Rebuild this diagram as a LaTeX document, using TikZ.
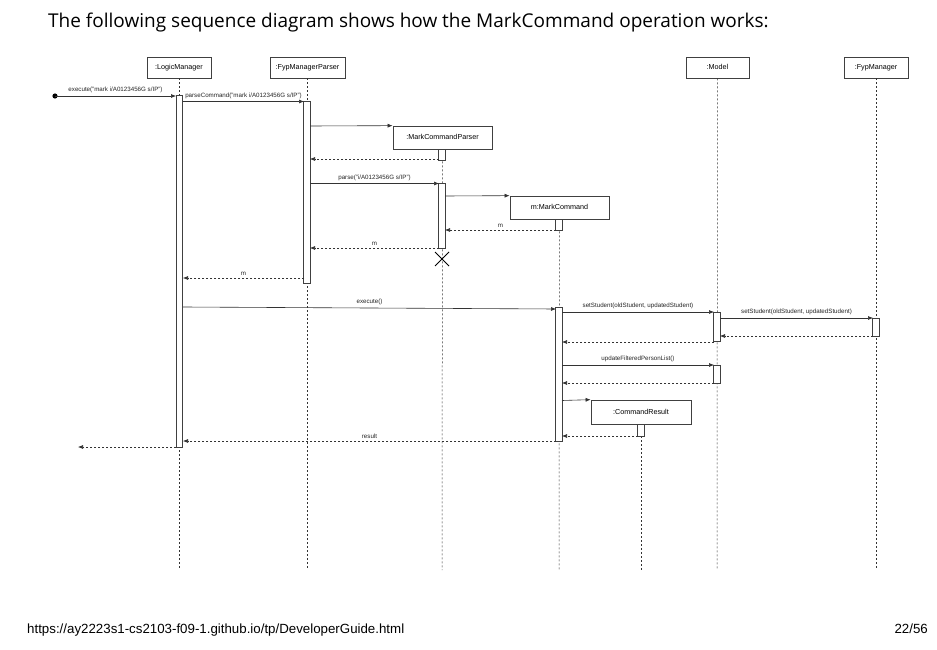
\documentclass[tikz,border=0pt]{standalone}
\usepackage{fontspec}
\setmainfont{Liberation Sans}
\newfontfamily\titlefont{Open Sans}
\usetikzlibrary{arrows.meta,calc}
\begin{document}
\begin{tikzpicture}[x=1pt,y=-1pt,
  obj/.style={draw=black!75, line width=0.7pt, fill=white, minimum height=21pt, inner sep=0pt, text height=5.5pt, text depth=1.5pt, font=\fontsize{7.2}{8}\selectfont},
  life/.style={draw=black!80, line width=0.5pt, dash pattern=on 2pt off 2pt},
  act/.style={draw=black!75, fill=white, line width=0.6pt, minimum width=6.5pt, inner sep=0pt},
  msg/.style={draw=black!80, line width=0.6pt, -{Latex[length=5pt,width=4pt]}},
  ret/.style={msg, dash pattern=on 2.5pt off 1.5pt},
  lbl/.style={font=\fontsize{6.2}{7}\selectfont, inner sep=0.5pt, anchor=south, text=black!85}
]
\useasboundingbox[fill=white] (0,0) rectangle (937,650);

% title and footer
\node[anchor=base west, inner sep=0pt, font=\titlefont\fontsize{19}{22}\selectfont] (title) at (48,28) {The following sequence diagram shows how the MarkCommand operation works:};
\node[anchor=base west, inner sep=0pt, font=\fontsize{13.3}{15}\selectfont] (url) at (27,633) {https://ay2223s1-cs2103-f09-1.github.io/tp/DeveloperGuide.html};
\node[anchor=base east, inner sep=0pt, font=\fontsize{13.3}{15}\selectfont] (page) at (928,633) {22/56};

% lifeline ends
\coordinate (lmE) at (179,570);
\coordinate (fpE) at (307.5,570);
\coordinate (mcpE) at (442,570);
\coordinate (mcE) at (559,570);
\coordinate (moE) at (717,570);
\coordinate (fmE) at (876,570);
\coordinate (crE) at (641,570);

% objects
\node[obj, minimum width=64pt] (lm) at (179,67.5) {:LogicManager};
\node[obj, minimum width=75pt] (fp) at (307.5,67.5) {:FypManagerParser};
\node[obj, minimum width=63pt] (mo) at (717.5,67.5) {:Model};
\node[obj, minimum width=64pt] (fm) at (876,67.5) {:FypManager};

\draw[life] (lm.south) -- (lmE);
\draw[life] (fp.south) -- (fpE);
\draw[life] (mo.south) -- (moE);
\draw[life] (fm.south) -- (fmE);

\node[obj, minimum width=99pt, minimum height=23pt] (mcp) at (442.5,137.5) {:MarkCommandParser};
\node[obj, minimum width=99pt, minimum height=23pt] (mc) at (559.5,207.5) {m:MarkCommand};
\node[obj, minimum width=100pt, minimum height=24pt] (cr) at (641,412) {:CommandResult};

\draw[life] (mcp.south) -- (mcpE);
\draw[life] (mc.south) -- (mcE);
\draw[life] (cr.south) -- (crE);

% activation bars
\node[act, minimum height=352pt] (lmA) at (179.5,271) {};
\node[act, minimum height=182pt] (fpA) at (307,192) {};
\node[act, minimum height=11pt] (mcpA1) at (442,154.5) {};
\node[act, minimum height=65pt] (mcpA2) at (442,215.5) {};
\node[act, minimum height=11pt] (mcA1) at (559,224.5) {};
\node[act, minimum height=134pt] (mcA2) at (559,374) {};
\node[act, minimum height=29pt] (moA1) at (717,326.5) {};
\node[act, minimum height=18pt] (moA2) at (717,374) {};
\node[act, minimum height=18pt] (fmA) at (876,327) {};
\node[act, minimum height=12pt] (crA) at (641,430) {};

% message end points
\coordinate (s0) at (55,96);
\coordinate (e0) at (176,96);
\coordinate (s1) at (183,101.5);
\coordinate (e1) at (304,101.5);
\coordinate (s2) at (310,126);
\coordinate (s3) at (439,159);
\coordinate (e3) at (310,159);
\coordinate (s4) at (310,183.5);
\coordinate (e4) at (439,183.5);
\coordinate (s5) at (445,196);
\coordinate (s6) at (556,230);
\coordinate (e6) at (445,230);
\coordinate (s7) at (439,248);
\coordinate (e7) at (310,248);
\coordinate (s8) at (304,278);
\coordinate (e8) at (183,278);
\coordinate (s9) at (183,307);
\coordinate (e9) at (556,309);
\coordinate (s10) at (562,312);
\coordinate (e10) at (714,312);
\coordinate (s11) at (720,318);
\coordinate (e11) at (873,318);
\coordinate (s12) at (873,336);
\coordinate (e12) at (720,336);
\coordinate (s13) at (714,342);
\coordinate (e13) at (562,342);
\coordinate (s14) at (562,365);
\coordinate (e14) at (714,365);
\coordinate (s15) at (714,383);
\coordinate (e15) at (562,383);
\coordinate (s16) at (562,400.5);
\coordinate (s17) at (638,436);
\coordinate (e17) at (562,436);
\coordinate (s18) at (556,441);
\coordinate (e18) at (183,441);
\coordinate (s19) at (176,447);
\coordinate (e19) at (78,447);

% messages
\fill[black] (s0) circle (2.6pt);
\draw[msg] (s0) -- node[lbl, yshift=2pt] {execute("mark i/A0123456G s/IP")} (e0);
\draw[msg] (s1) -- node[lbl, yshift=2pt] {parseCommand("mark i/A0123456G s/IP")} (e1);
\draw[msg] (s2) -- (mcp.north west);
\draw[ret] (s3) -- (e3);
\draw[msg] (s4) -- node[lbl, yshift=2pt] {parse("i/A0123456G s/IP")} (e4);
\draw[msg] (s5) -- (mc.north west);
\draw[ret] (s6) -- node[lbl, yshift=2pt] {m} (e6);
\draw[ret] (s7) -- node[lbl, yshift=2pt] {m} (e7);
\draw[ret] (s8) -- node[lbl, yshift=2pt] {m} (e8);
\draw[msg] (s9) -- node[lbl, yshift=2pt] {execute()} (e9);
\draw[msg] (s10) -- node[lbl, yshift=2pt] {setStudent(oldStudent, updatedStudent)} (e10);
\draw[msg] (s11) -- node[lbl, yshift=2pt] {setStudent(oldStudent, updatedStudent)} (e11);
\draw[ret] (s12) -- (e12);
\draw[ret] (s13) -- (e13);
\draw[msg] (s14) -- node[lbl, yshift=2pt] {updateFilteredPersonList()} (e14);
\draw[ret] (s15) -- (e15);
\draw[msg] (s16) -- (cr.north west);
\draw[ret] (s17) -- (e17);
\draw[ret] (s18) -- node[lbl, yshift=2pt] {result} (e18);
\draw[ret] (s19) -- (e19);

% destruction mark
\coordinate (xc) at (442,259);
\draw[line width=1pt, black] ($(xc)+(-7,-7)$) -- ($(xc)+(7,7)$) ($(xc)+(7,-7)$) -- ($(xc)+(-7,7)$);
\end{tikzpicture}
\end{document}
